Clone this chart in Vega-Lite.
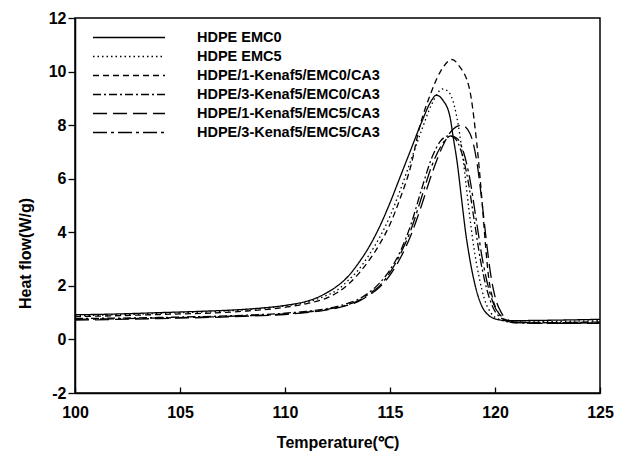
{
  "$schema": "https://vega.github.io/schema/vega-lite/v6.json",
  "width": 525,
  "height": 375,
  "autosize": {"type": "none"},
  "padding": {"left": 75, "top": 18, "right": 28, "bottom": 65},
  "background": "white",
  "config": {
    "view": {"stroke": "black", "strokeWidth": 1.5},
    "font": "Liberation Sans",
    "axis": {
      "domainColor": "black", "domainWidth": 1.5, "tickColor": "black", "tickWidth": 1.3,
      "labelFont": "Liberation Sans", "labelFontWeight": "bold", "labelFontSize": 16, "labelColor": "black",
      "titleFont": "Liberation Sans", "titleFontWeight": "bold", "titleFontSize": 16, "titleColor": "black",
      "grid": false, "labelFlush": false
    }
  },
  "data": {"values": [
    {"s":"HDPE EMC0","t":100,"v":0.92},{"s":"HDPE EMC0","t":102,"v":0.95},{"s":"HDPE EMC0","t":104,"v":1.0},{"s":"HDPE EMC0","t":106,"v":1.05},{"s":"HDPE EMC0","t":108,"v":1.12},{"s":"HDPE EMC0","t":109,"v":1.18},{"s":"HDPE EMC0","t":110,"v":1.27},{"s":"HDPE EMC0","t":111,"v":1.42},{"s":"HDPE EMC0","t":111.5,"v":1.55},{"s":"HDPE EMC0","t":112,"v":1.75},{"s":"HDPE EMC0","t":112.5,"v":2.0},{"s":"HDPE EMC0","t":113,"v":2.35},{"s":"HDPE EMC0","t":113.5,"v":2.85},{"s":"HDPE EMC0","t":114,"v":3.45},{"s":"HDPE EMC0","t":114.5,"v":4.2},{"s":"HDPE EMC0","t":115,"v":5.1},{"s":"HDPE EMC0","t":115.5,"v":6.1},{"s":"HDPE EMC0","t":116,"v":7.1},{"s":"HDPE EMC0","t":116.5,"v":8.1},{"s":"HDPE EMC0","t":117,"v":8.95},{"s":"HDPE EMC0","t":117.2,"v":9.12},{"s":"HDPE EMC0","t":117.5,"v":8.95},{"s":"HDPE EMC0","t":117.86,"v":8.3},{"s":"HDPE EMC0","t":118.0,"v":7.6},{"s":"HDPE EMC0","t":118.2,"v":6.6},{"s":"HDPE EMC0","t":118.4,"v":5.3},{"s":"HDPE EMC0","t":118.6,"v":4.0},{"s":"HDPE EMC0","t":118.8,"v":3.0},{"s":"HDPE EMC0","t":119.0,"v":2.2},{"s":"HDPE EMC0","t":119.2,"v":1.6},{"s":"HDPE EMC0","t":119.4,"v":1.2},{"s":"HDPE EMC0","t":119.7,"v":0.9},{"s":"HDPE EMC0","t":120.1,"v":0.75},{"s":"HDPE EMC0","t":120.6,"v":0.7},{"s":"HDPE EMC0","t":122,"v":0.71},{"s":"HDPE EMC0","t":125,"v":0.75},

    {"s":"HDPE EMC5","t":100,"v":0.88},{"s":"HDPE EMC5","t":104,"v":0.97},{"s":"HDPE EMC5","t":108,"v":1.1},{"s":"HDPE EMC5","t":110,"v":1.25},{"s":"HDPE EMC5","t":111,"v":1.38},{"s":"HDPE EMC5","t":112,"v":1.65},{"s":"HDPE EMC5","t":112.5,"v":1.85},{"s":"HDPE EMC5","t":113,"v":2.2},{"s":"HDPE EMC5","t":113.5,"v":2.6},{"s":"HDPE EMC5","t":114,"v":3.15},{"s":"HDPE EMC5","t":114.5,"v":3.8},{"s":"HDPE EMC5","t":115,"v":4.6},{"s":"HDPE EMC5","t":115.5,"v":5.6},{"s":"HDPE EMC5","t":116,"v":6.7},{"s":"HDPE EMC5","t":116.5,"v":7.8},{"s":"HDPE EMC5","t":117,"v":8.8},{"s":"HDPE EMC5","t":117.5,"v":9.35},{"s":"HDPE EMC5","t":117.7,"v":9.3},{"s":"HDPE EMC5","t":118.0,"v":8.9},{"s":"HDPE EMC5","t":118.25,"v":8.0},{"s":"HDPE EMC5","t":118.5,"v":6.6},{"s":"HDPE EMC5","t":118.75,"v":4.9},{"s":"HDPE EMC5","t":119.0,"v":3.4},{"s":"HDPE EMC5","t":119.25,"v":2.3},{"s":"HDPE EMC5","t":119.5,"v":1.5},{"s":"HDPE EMC5","t":119.8,"v":1.0},{"s":"HDPE EMC5","t":120.2,"v":0.75},{"s":"HDPE EMC5","t":120.8,"v":0.65},{"s":"HDPE EMC5","t":123,"v":0.67},{"s":"HDPE EMC5","t":125,"v":0.7},

    {"s":"HDPE/1-Kenaf5/EMC0/CA3","t":100,"v":0.85},{"s":"HDPE/1-Kenaf5/EMC0/CA3","t":104,"v":0.93},{"s":"HDPE/1-Kenaf5/EMC0/CA3","t":108,"v":1.05},{"s":"HDPE/1-Kenaf5/EMC0/CA3","t":110,"v":1.2},{"s":"HDPE/1-Kenaf5/EMC0/CA3","t":111,"v":1.33},{"s":"HDPE/1-Kenaf5/EMC0/CA3","t":112,"v":1.55},{"s":"HDPE/1-Kenaf5/EMC0/CA3","t":112.5,"v":1.75},{"s":"HDPE/1-Kenaf5/EMC0/CA3","t":113,"v":2.05},{"s":"HDPE/1-Kenaf5/EMC0/CA3","t":113.5,"v":2.45},{"s":"HDPE/1-Kenaf5/EMC0/CA3","t":114,"v":2.95},{"s":"HDPE/1-Kenaf5/EMC0/CA3","t":114.5,"v":3.55},{"s":"HDPE/1-Kenaf5/EMC0/CA3","t":115,"v":4.3},{"s":"HDPE/1-Kenaf5/EMC0/CA3","t":115.5,"v":5.3},{"s":"HDPE/1-Kenaf5/EMC0/CA3","t":116,"v":6.5},{"s":"HDPE/1-Kenaf5/EMC0/CA3","t":116.4,"v":7.9},{"s":"HDPE/1-Kenaf5/EMC0/CA3","t":116.9,"v":9.1},{"s":"HDPE/1-Kenaf5/EMC0/CA3","t":117.4,"v":10.0},{"s":"HDPE/1-Kenaf5/EMC0/CA3","t":117.95,"v":10.45},{"s":"HDPE/1-Kenaf5/EMC0/CA3","t":118.3,"v":10.2},{"s":"HDPE/1-Kenaf5/EMC0/CA3","t":118.8,"v":9.3},{"s":"HDPE/1-Kenaf5/EMC0/CA3","t":119.05,"v":7.9},{"s":"HDPE/1-Kenaf5/EMC0/CA3","t":119.2,"v":6.8},{"s":"HDPE/1-Kenaf5/EMC0/CA3","t":119.4,"v":5.0},{"s":"HDPE/1-Kenaf5/EMC0/CA3","t":119.55,"v":3.5},{"s":"HDPE/1-Kenaf5/EMC0/CA3","t":119.7,"v":2.3},{"s":"HDPE/1-Kenaf5/EMC0/CA3","t":119.9,"v":1.5},{"s":"HDPE/1-Kenaf5/EMC0/CA3","t":120.2,"v":0.95},{"s":"HDPE/1-Kenaf5/EMC0/CA3","t":120.6,"v":0.7},{"s":"HDPE/1-Kenaf5/EMC0/CA3","t":121,"v":0.63},{"s":"HDPE/1-Kenaf5/EMC0/CA3","t":123,"v":0.63},{"s":"HDPE/1-Kenaf5/EMC0/CA3","t":125,"v":0.65},

    {"s":"HDPE/3-Kenaf5/EMC0/CA3","t":100,"v":0.78},{"s":"HDPE/3-Kenaf5/EMC0/CA3","t":104,"v":0.82},{"s":"HDPE/3-Kenaf5/EMC0/CA3","t":108,"v":0.9},{"s":"HDPE/3-Kenaf5/EMC0/CA3","t":110,"v":0.98},{"s":"HDPE/3-Kenaf5/EMC0/CA3","t":111,"v":1.05},{"s":"HDPE/3-Kenaf5/EMC0/CA3","t":112,"v":1.15},{"s":"HDPE/3-Kenaf5/EMC0/CA3","t":113,"v":1.35},{"s":"HDPE/3-Kenaf5/EMC0/CA3","t":113.5,"v":1.5},{"s":"HDPE/3-Kenaf5/EMC0/CA3","t":114,"v":1.75},{"s":"HDPE/3-Kenaf5/EMC0/CA3","t":114.5,"v":2.1},{"s":"HDPE/3-Kenaf5/EMC0/CA3","t":115,"v":2.6},{"s":"HDPE/3-Kenaf5/EMC0/CA3","t":115.5,"v":3.3},{"s":"HDPE/3-Kenaf5/EMC0/CA3","t":116,"v":4.3},{"s":"HDPE/3-Kenaf5/EMC0/CA3","t":116.5,"v":5.6},{"s":"HDPE/3-Kenaf5/EMC0/CA3","t":117,"v":6.8},{"s":"HDPE/3-Kenaf5/EMC0/CA3","t":117.4,"v":7.4},{"s":"HDPE/3-Kenaf5/EMC0/CA3","t":117.8,"v":7.6},{"s":"HDPE/3-Kenaf5/EMC0/CA3","t":118.1,"v":7.5},{"s":"HDPE/3-Kenaf5/EMC0/CA3","t":118.4,"v":7.0},{"s":"HDPE/3-Kenaf5/EMC0/CA3","t":118.7,"v":6.0},{"s":"HDPE/3-Kenaf5/EMC0/CA3","t":119.0,"v":4.5},{"s":"HDPE/3-Kenaf5/EMC0/CA3","t":119.3,"v":3.0},{"s":"HDPE/3-Kenaf5/EMC0/CA3","t":119.6,"v":1.9},{"s":"HDPE/3-Kenaf5/EMC0/CA3","t":119.9,"v":1.2},{"s":"HDPE/3-Kenaf5/EMC0/CA3","t":120.3,"v":0.8},{"s":"HDPE/3-Kenaf5/EMC0/CA3","t":120.8,"v":0.65},{"s":"HDPE/3-Kenaf5/EMC0/CA3","t":123,"v":0.63},{"s":"HDPE/3-Kenaf5/EMC0/CA3","t":125,"v":0.65},

    {"s":"HDPE/1-Kenaf5/EMC5/CA3","t":100,"v":0.72},{"s":"HDPE/1-Kenaf5/EMC5/CA3","t":104,"v":0.78},{"s":"HDPE/1-Kenaf5/EMC5/CA3","t":108,"v":0.86},{"s":"HDPE/1-Kenaf5/EMC5/CA3","t":110,"v":0.93},{"s":"HDPE/1-Kenaf5/EMC5/CA3","t":111,"v":1.0},{"s":"HDPE/1-Kenaf5/EMC5/CA3","t":112,"v":1.1},{"s":"HDPE/1-Kenaf5/EMC5/CA3","t":113,"v":1.28},{"s":"HDPE/1-Kenaf5/EMC5/CA3","t":113.5,"v":1.42},{"s":"HDPE/1-Kenaf5/EMC5/CA3","t":114,"v":1.65},{"s":"HDPE/1-Kenaf5/EMC5/CA3","t":114.5,"v":1.95},{"s":"HDPE/1-Kenaf5/EMC5/CA3","t":115,"v":2.4},{"s":"HDPE/1-Kenaf5/EMC5/CA3","t":115.5,"v":3.05},{"s":"HDPE/1-Kenaf5/EMC5/CA3","t":116,"v":3.9},{"s":"HDPE/1-Kenaf5/EMC5/CA3","t":116.5,"v":5.0},{"s":"HDPE/1-Kenaf5/EMC5/CA3","t":117,"v":6.2},{"s":"HDPE/1-Kenaf5/EMC5/CA3","t":117.5,"v":7.2},{"s":"HDPE/1-Kenaf5/EMC5/CA3","t":118.0,"v":7.85},{"s":"HDPE/1-Kenaf5/EMC5/CA3","t":118.4,"v":8.0},{"s":"HDPE/1-Kenaf5/EMC5/CA3","t":118.8,"v":7.7},{"s":"HDPE/1-Kenaf5/EMC5/CA3","t":119.1,"v":6.8},{"s":"HDPE/1-Kenaf5/EMC5/CA3","t":119.4,"v":5.0},{"s":"HDPE/1-Kenaf5/EMC5/CA3","t":119.6,"v":3.6},{"s":"HDPE/1-Kenaf5/EMC5/CA3","t":119.8,"v":2.4},{"s":"HDPE/1-Kenaf5/EMC5/CA3","t":120.0,"v":1.6},{"s":"HDPE/1-Kenaf5/EMC5/CA3","t":120.3,"v":1.0},{"s":"HDPE/1-Kenaf5/EMC5/CA3","t":120.7,"v":0.7},{"s":"HDPE/1-Kenaf5/EMC5/CA3","t":121.2,"v":0.62},{"s":"HDPE/1-Kenaf5/EMC5/CA3","t":123,"v":0.6},{"s":"HDPE/1-Kenaf5/EMC5/CA3","t":125,"v":0.6},

    {"s":"HDPE/3-Kenaf5/EMC5/CA3","t":100,"v":0.75},{"s":"HDPE/3-Kenaf5/EMC5/CA3","t":104,"v":0.8},{"s":"HDPE/3-Kenaf5/EMC5/CA3","t":108,"v":0.88},{"s":"HDPE/3-Kenaf5/EMC5/CA3","t":110,"v":0.95},{"s":"HDPE/3-Kenaf5/EMC5/CA3","t":111,"v":1.02},{"s":"HDPE/3-Kenaf5/EMC5/CA3","t":112,"v":1.12},{"s":"HDPE/3-Kenaf5/EMC5/CA3","t":113,"v":1.3},{"s":"HDPE/3-Kenaf5/EMC5/CA3","t":113.5,"v":1.45},{"s":"HDPE/3-Kenaf5/EMC5/CA3","t":114,"v":1.7},{"s":"HDPE/3-Kenaf5/EMC5/CA3","t":114.5,"v":2.0},{"s":"HDPE/3-Kenaf5/EMC5/CA3","t":115,"v":2.5},{"s":"HDPE/3-Kenaf5/EMC5/CA3","t":115.5,"v":3.2},{"s":"HDPE/3-Kenaf5/EMC5/CA3","t":116,"v":4.1},{"s":"HDPE/3-Kenaf5/EMC5/CA3","t":116.5,"v":5.3},{"s":"HDPE/3-Kenaf5/EMC5/CA3","t":117,"v":6.5},{"s":"HDPE/3-Kenaf5/EMC5/CA3","t":117.5,"v":7.3},{"s":"HDPE/3-Kenaf5/EMC5/CA3","t":117.9,"v":7.6},{"s":"HDPE/3-Kenaf5/EMC5/CA3","t":118.2,"v":7.5},{"s":"HDPE/3-Kenaf5/EMC5/CA3","t":118.5,"v":7.0},{"s":"HDPE/3-Kenaf5/EMC5/CA3","t":118.8,"v":6.0},{"s":"HDPE/3-Kenaf5/EMC5/CA3","t":119.1,"v":4.5},{"s":"HDPE/3-Kenaf5/EMC5/CA3","t":119.4,"v":3.0},{"s":"HDPE/3-Kenaf5/EMC5/CA3","t":119.7,"v":1.9},{"s":"HDPE/3-Kenaf5/EMC5/CA3","t":120.0,"v":1.2},{"s":"HDPE/3-Kenaf5/EMC5/CA3","t":120.4,"v":0.8},{"s":"HDPE/3-Kenaf5/EMC5/CA3","t":120.9,"v":0.62},{"s":"HDPE/3-Kenaf5/EMC5/CA3","t":123,"v":0.6},{"s":"HDPE/3-Kenaf5/EMC5/CA3","t":125,"v":0.62}
  ]},
  "mark": {"type": "line", "interpolate": "monotone", "color": "black", "strokeWidth": 1.3, "clip": true},
  "encoding": {
    "x": {
      "field": "t", "type": "quantitative",
      "scale": {"domain": [100, 125], "nice": false, "zero": false},
      "axis": {"title": "Temperature(℃)", "values": [100, 105, 110, 115, 120, 125], "tickSize": -6, "labelPadding": 17, "titlePadding": 14, "labelFlush": false}
    },
    "y": {
      "field": "v", "type": "quantitative",
      "scale": {"domain": [-2, 12], "nice": false, "zero": false},
      "axis": {"title": "Heat flow(W/g)", "values": [-2, 0, 2, 4, 6, 8, 10, 12], "labelExpr": "replace(datum.label, '−', '-')", "tickSize": 7, "labelPadding": 2, "titleX": -50, "titleY": 235, "titleBaseline": "middle", "titleAlign": "center", "labelFlush": false}
    },
    "strokeDash": {
      "field": "s", "type": "nominal",
      "scale": {
        "domain": ["HDPE EMC0", "HDPE EMC5", "HDPE/1-Kenaf5/EMC0/CA3", "HDPE/3-Kenaf5/EMC0/CA3", "HDPE/1-Kenaf5/EMC5/CA3", "HDPE/3-Kenaf5/EMC5/CA3"],
        "range": [[1, 0], [1.5, 3], [6, 4], [8, 3, 2, 3], [14, 6], [14, 4, 3, 4]]
      },
      "legend": {
        "title": null, "orient": "none", "legendX": 17, "legendY": 10, "padding": 0,
        "symbolType": "stroke", "symbolSize": 5184, "symbolStrokeWidth": 1.3, "symbolStrokeColor": "black",
        "clipHeight": 19, "rowPadding": 0, "labelOffset": 31, "labelLimit": 0,
        "labelFont": "Liberation Sans", "labelFontWeight": "bold", "labelFontSize": 14.5, "labelColor": "black"
      }
    }
  }
}
